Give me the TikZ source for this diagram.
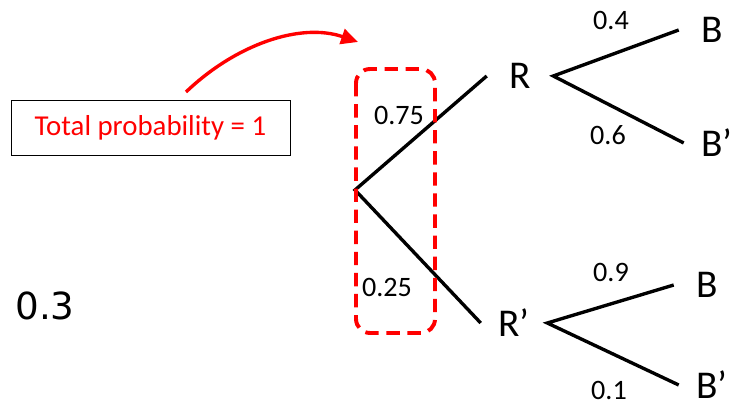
\documentclass[tikz,border=0pt]{standalone}
\usepackage{fontspec}
\setmainfont{Carlito}
\newfontfamily\numfont{DejaVu Sans}
\usetikzlibrary{arrows.meta}
\tikzset{branch/.style={black, line width=2.4pt},
  prob/.style={font=\fontsize{20}{24}\selectfont, inner sep=1pt},
  event/.style={font=\fontsize{28}{32}\selectfont, inner sep=0pt, minimum width=1.65cm}}

\begin{document}
\begin{tikzpicture}[x=0.025cm,y=-0.025cm]
\useasboundingbox (0,0) rectangle (740,406);
% tree
\coordinate (root) at (355,190);
\node[event] (R)   at (520,76)  {R};
\node[event] (Rp)  at (514,323) {R'};
\node[event] (B1)  at (712,30)  {B};
\node[event] (B1p) at (717,143) {B'};
\node[event] (B2)  at (707,285) {B};
\node[event] (B2p) at (712,385) {B'};
\draw[branch] (R.west) -- (root) -- (Rp.west);
\draw[branch] (B1.west) -- (R.east) -- (B1p.west);
\draw[branch] (B2.west) -- (Rp.east) -- (B2p.west);
\node[prob] (pR)   at (399,115) {0.75};
\node[prob] (pRp)  at (387,287) {0.25};
\node[prob] (pB1)  at (611,20)  {0.4};
\node[prob] (pB1p) at (608,135) {0.6};
\node[prob] (pB2)  at (611,272) {0.9};
\node[prob] (pB2p) at (609,390) {0.1};
% first stage marked
\draw[red, line width=2.8pt, dash pattern=on 9.5pt off 5.5pt, rounded corners=10pt] (356,69) rectangle (435,333);
\node[draw, line width=0.6pt, text=red, font=\fontsize{20.5}{24}\selectfont,
  minimum width=6.975cm, minimum height=1.375cm] (total) at (150.5,127.5) {Total probability = 1};
\coordinate (arr-s) at (186,92);
\coordinate (arr-e) at (358,42);
\draw[red, line width=2.4pt, -{Triangle[length=12pt,width=11pt]}] (arr-s) .. controls (235,45) and (300,22) .. (arr-e);
\node[font=\numfont\fontsize{26.5}{30}\selectfont] (extra) at (45,306) {0.3};
\end{tikzpicture}
\end{document}
